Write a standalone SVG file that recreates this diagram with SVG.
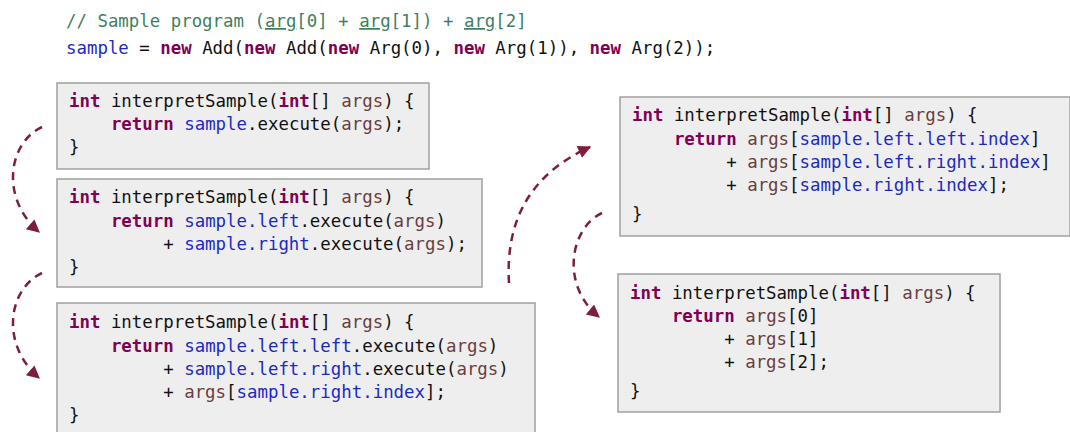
<svg xmlns="http://www.w3.org/2000/svg" width="1070" height="432" viewBox="0 0 1070 432">
<style>
text{font-family:"DejaVu Sans Mono","Liberation Mono",monospace;font-size:17.4px;fill:#111}
.k{fill:#7f0055;font-weight:bold}
.f{fill:#1c2ac4}
.v{fill:#6a3e3e}
.c{fill:#3f7f5f}
.u{text-decoration:underline}
.box{fill:#eeeeee;stroke:#a0a0a0;stroke-width:1.5}
.arr{fill:none;stroke:#7d1d40;stroke-width:2.5;stroke-dasharray:8 6}
</style>
<defs>
<marker id="ah" viewBox="0 0 10 10" refX="9" refY="5" markerWidth="15" markerHeight="13" markerUnits="userSpaceOnUse" orient="auto">
<path d="M0,0 L10,5 L0,10 z" fill="#7d1d40"/>
</marker>
</defs>
<g id="header">
<text x="66" y="27" xml:space="preserve"><tspan class="c">// Sample program (<tspan class="u">arg</tspan>[0] + <tspan class="u">arg</tspan>[1]) + <tspan class="u">arg</tspan>[2]</tspan></text>
<text x="66" y="54" xml:space="preserve"><tspan class="f">sample</tspan> = <tspan class="k">new</tspan> Add(<tspan class="k">new</tspan> Add(<tspan class="k">new</tspan> Arg(0), <tspan class="k">new</tspan> Arg(1)), <tspan class="k">new</tspan> Arg(2));</text>
</g>
<g id="step1">
<rect class="box" x="57" y="83" width="372" height="86"/>
<text x="69" y="107" xml:space="preserve"><tspan class="k">int</tspan> interpretSample(<tspan class="k">int</tspan>[] <tspan class="v">args</tspan>) {</text>
<text x="69" y="130" xml:space="preserve">    <tspan class="k">return</tspan> <tspan class="f">sample</tspan>.execute(<tspan class="v">args</tspan>);</text>
<text x="69" y="153" xml:space="preserve">}</text>
</g>
<g id="step2">
<rect class="box" x="57" y="179" width="425" height="108"/>
<text x="69" y="203" xml:space="preserve"><tspan class="k">int</tspan> interpretSample(<tspan class="k">int</tspan>[] <tspan class="v">args</tspan>) {</text>
<text x="69" y="227" xml:space="preserve">    <tspan class="k">return</tspan> <tspan class="f">sample.left</tspan>.execute(<tspan class="v">args</tspan>)</text>
<text x="69" y="250" xml:space="preserve">         + <tspan class="f">sample.right</tspan>.execute(<tspan class="v">args</tspan>);</text>
<text x="69" y="273" xml:space="preserve">}</text>
</g>
<g id="step3">
<rect class="box" x="57" y="303" width="478" height="140"/>
<text x="69" y="328" xml:space="preserve"><tspan class="k">int</tspan> interpretSample(<tspan class="k">int</tspan>[] <tspan class="v">args</tspan>) {</text>
<text x="69" y="352" xml:space="preserve">    <tspan class="k">return</tspan> <tspan class="f">sample.left.left</tspan>.execute(<tspan class="v">args</tspan>)</text>
<text x="69" y="375" xml:space="preserve">         + <tspan class="f">sample.left.right</tspan>.execute(<tspan class="v">args</tspan>)</text>
<text x="69" y="398" xml:space="preserve">         + <tspan class="v">args</tspan>[<tspan class="f">sample.right.index</tspan>];</text>
<text x="69" y="421" xml:space="preserve">}</text>
</g>
<g id="step4">
<rect class="box" x="620" y="97" width="450" height="139"/>
<text x="632" y="121" xml:space="preserve"><tspan class="k">int</tspan> interpretSample(<tspan class="k">int</tspan>[] <tspan class="v">args</tspan>) {</text>
<text x="632" y="145" xml:space="preserve">    <tspan class="k">return</tspan> <tspan class="v">args</tspan>[<tspan class="f">sample.left.left.index</tspan>]</text>
<text x="632" y="168" xml:space="preserve">         + <tspan class="v">args</tspan>[<tspan class="f">sample.left.right.index</tspan>]</text>
<text x="632" y="191" xml:space="preserve">         + <tspan class="v">args</tspan>[<tspan class="f">sample.right.index</tspan>];</text>
<text x="632" y="220" xml:space="preserve">}</text>
</g>
<g id="step5">
<rect class="box" x="618" y="274" width="382" height="138"/>
<text x="630" y="299" xml:space="preserve"><tspan class="k">int</tspan> interpretSample(<tspan class="k">int</tspan>[] <tspan class="v">args</tspan>) {</text>
<text x="630" y="322" xml:space="preserve">    <tspan class="k">return</tspan> <tspan class="v">args</tspan>[0]</text>
<text x="630" y="345" xml:space="preserve">         + <tspan class="v">args</tspan>[1]</text>
<text x="630" y="368" xml:space="preserve">         + <tspan class="v">args</tspan>[2];</text>
<text x="630" y="397" xml:space="preserve">}</text>
</g>
<g id="connectors">
<path class="arr" d="M42,127 C8,143 0,198 39,232" marker-end="url(#ah)"/>
<path class="arr" d="M42,273 C8,289 0,344 39,378" marker-end="url(#ah)"/>
<path class="arr" d="M509,283 C505,215 535,172 590,147" marker-end="url(#ah)"/>
<path class="arr" d="M602,213 C570,228 560,285 599,317" marker-end="url(#ah)"/>
</g>
</svg>
